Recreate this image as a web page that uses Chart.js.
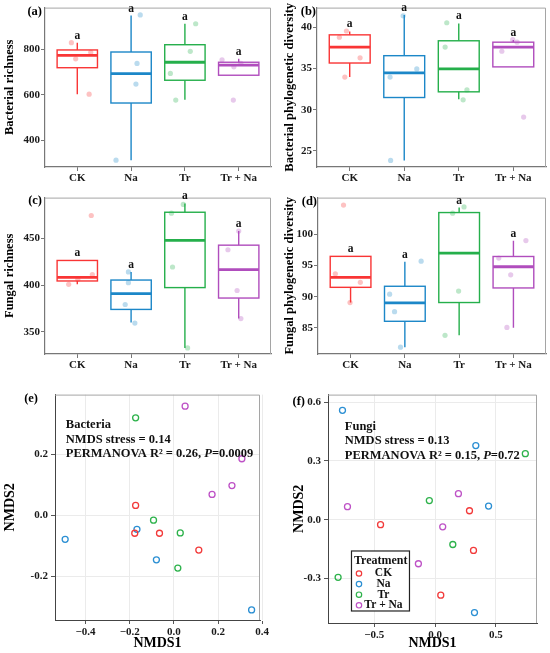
<!DOCTYPE html>
<html>
<head>
<meta charset="utf-8">
<script src="https://cdn.jsdelivr.net/npm/chart.js@4.4.0/dist/chart.umd.min.js"></script>
<style>
html, body { margin: 0; padding: 0; background: #fff; }
#fig { position: relative; width: 550px; height: 653px; }
#fig canvas { position: absolute; }
</style>
</head>
<body>
<div id="fig">
  <canvas id="pa" width="275" height="190" style="left:0;top:0"></canvas>
  <canvas id="pb" width="275" height="190" style="left:275px;top:0"></canvas>
  <canvas id="pc" width="275" height="195" style="left:0;top:190px"></canvas>
  <canvas id="pd" width="275" height="195" style="left:275px;top:190px"></canvas>
  <canvas id="pe" width="275" height="268" style="left:0;top:385px"></canvas>
  <canvas id="pf" width="275" height="268" style="left:275px;top:385px"></canvas>
</div>
<script>
const categories = ['CK', 'Na', 'Tr', 'Tr + Na'];
const sigLetters = ['a', 'a', 'a', 'a'];

// box stats per group: [lower whisker, Q1, median, Q3, upper whisker]
const bacRichBox = [[603, 719, 773, 797, 829], [313, 564, 693, 788, 948], [578, 664, 743, 820, 912], [686, 686, 730, 743, 758]];
const bacRichPts = [[829, 758, 787, 603], [951, 738, 647, 313], [912, 791, 694, 577], [754, 723, 738, 577]];
const bacRichJit = [[-0.11, -0.03, 0.25, 0.22], [0.17, 0.11, 0.09, -0.28], [0.20, 0.10, -0.27, -0.17], [-0.31, -0.09, 0.04, -0.10]];
const bacRichTicks = [400, 600, 800];

const bacPdBox = [[33.96, 35.67, 37.6, 39.09, 39.5], [23.84, 31.48, 34.47, 36.56, 41.5], [31.28, 32.17, 34.95, 38.37, 40.48], [35.2, 35.2, 37.6, 38.2, 38.45]];
const bacPdPts = [[38.8, 39.56, 36.3, 33.96], [41.4, 33.96, 34.95, 23.84], [40.56, 37.6, 32.4, 31.2], [38.5, 38.2, 37.1, 29.1]];
const bacPdJit = [[-0.19, -0.06, 0.19, -0.09], [-0.02, -0.26, 0.23, -0.25], [-0.22, -0.25, 0.15, 0.08], [-0.01, 0.07, -0.21, 0.19]];
const bacPdTicks = [25, 30, 35, 40];

const funRichBox = [[401, 404.6, 408.4, 426.6, 426.6], [360.1, 374.1, 391.0, 405.6, 414.3], [332.8, 397.5, 448.2, 478.3, 487.8], [364.3, 386.3, 416.7, 443, 458.1]];
const funRichPts = [[474.8, 411.5, 406.3, 401], [414.3, 402.8, 379.4, 359.5], [486.7, 477.3, 419.6, 332.8], [458.1, 438.1, 394.4, 364.3]];
const funRichJit = [[0.26, 0.28, 0.01, -0.16], [-0.05, -0.05, -0.11, 0.07], [-0.03, -0.25, -0.23, 0.05], [0, -0.2, -0.03, 0.04]];
const funRichTicks = [350, 400, 450];

const funPdBox = [[89.06, 91.5, 93.1, 96.47, 96.47], [81.9, 86.05, 89.0, 91.67, 95.6], [83.8, 89.06, 97.0, 103.5, 104.3], [85.0, 91.4, 94.8, 96.45, 98.96]];
const funPdPts = [[104.7, 93.66, 92.3, 89.06], [95.7, 90.4, 87.6, 81.9], [104.4, 103.4, 90.9, 83.8], [99.0, 96.2, 93.5, 85.06]];
const funPdJit = [[-0.13, -0.28, 0.18, -0.01], [0.30, -0.28, -0.19, -0.08], [0.09, -0.12, -0.01, -0.26], [0.23, -0.27, -0.05, -0.12]];
const funPdTicks = [85, 90, 95, 100];

// NMDS scores, one inner array per treatment (CK, Na, Tr, Tr + Na)
const bacNmds1 = [[-0.173, -0.177, -0.065, 0.113], [-0.492, -0.167, -0.079, 0.352], [-0.173, -0.092, 0.029, 0.018], [0.051, 0.308, 0.263, 0.173]];
const bacNmds2 = [[0.032, -0.059, -0.059, -0.114], [-0.079, -0.046, -0.146, -0.310], [0.319, -0.016, -0.058, -0.173], [0.357, 0.185, 0.097, 0.068]];
const bacTicksX = [-0.4, -0.2, 0, 0.2, 0.4];
const bacTicksY = [-0.2, 0, 0.2];

const funNmds1 = [[0.283, -0.448, 0.316, 0.047], [-0.761, 0.335, 0.44, 0.324], [0.742, -0.047, 0.146, -0.797], [-0.72, 0.192, 0.063, -0.137]];
const funNmds2 = [[0.046, -0.025, -0.156, -0.384], [0.558, 0.378, 0.070, -0.473], [0.337, 0.098, -0.126, -0.293], [0.067, 0.133, -0.036, -0.224]];
const funTicksX = [-0.5, 0, 0.5];
const funTicksY = [-0.3, 0, 0.3, 0.6];

const boxColors = ['#F93535', '#1C87C8', '#25AF4B', '#B04DBD'];
const pointColors = ['rgba(249,53,53,0.3)', 'rgba(28,135,200,0.3)', 'rgba(37,175,75,0.3)', 'rgba(176,77,189,0.3)'];
const nmdsColors = ['#F23A3A', '#2B8FD3', '#2DB24B', '#BE52C6'];

const SERIF = '"Liberation Serif", "Times New Roman", serif';
Chart.defaults.font.family = SERIF;
Chart.defaults.font.weight = 'bold';
Chart.defaults.font.size = 11;
Chart.defaults.color = '#1a1a1a';

function topRightFrame(ctx, a) {
    ctx.strokeStyle = '#a5a5a5';
    ctx.lineWidth = 1;
    ctx.beginPath();
    ctx.moveTo(a.left, a.top + 0.5);
    ctx.lineTo(a.right - 0.5, a.top + 0.5);
    ctx.lineTo(a.right - 0.5, a.bottom);
    ctx.stroke();
}

function drawTag(ctx, a, o) {
    ctx.fillStyle = '#000';
    ctx.font = 'bold 12.5px ' + SERIF;
    ctx.textAlign = 'right';
    ctx.textBaseline = 'middle';
    ctx.fillText(o.tag, a.left - o.tagDx, a.top + o.tagDy);
}

function boxChart(id, o) {
    const datasets = categories.map((c, i) => ({
        label: c,
        data: o.pts[i].map((v, j) => ({ x: i + 1 + o.jit[i][j], y: v })),
        pointRadius: 2.6,
        pointBorderWidth: 0,
        pointBackgroundColor: pointColors[i]
    }));

    const boxes = {
        id: 'boxes',
        beforeDatasetsDraw(chart) {
            const { ctx, chartArea: a, scales: { x, y } } = chart;
            ctx.save();
            topRightFrame(ctx, a);
            o.box.forEach((b, i) => {
                const cx = x.getPixelForValue(i + 1);
                const hw = x.getPixelForValue(i + 1.375) - cx;
                const [lo, q1, md, q3, hi] = b.map(v => y.getPixelForValue(v));
                ctx.strokeStyle = boxColors[i];
                ctx.lineWidth = 1.4;
                ctx.beginPath();
                ctx.moveTo(cx, q1); ctx.lineTo(cx, lo);
                ctx.moveTo(cx, q3); ctx.lineTo(cx, hi);
                ctx.stroke();
                ctx.fillStyle = '#fff';
                ctx.fillRect(cx - hw, q3, 2 * hw, q1 - q3);
                ctx.strokeRect(cx - hw, q3, 2 * hw, q1 - q3);
                ctx.lineWidth = 2.8;
                ctx.beginPath();
                ctx.moveTo(cx - hw, md); ctx.lineTo(cx + hw, md);
                ctx.stroke();
            });
            ctx.restore();
        },
        afterDatasetsDraw(chart) {
            const { ctx, chartArea: a, scales: { x, y } } = chart;
            ctx.save();
            ctx.fillStyle = '#111';
            ctx.font = 'bold 11.5px ' + SERIF;
            ctx.textAlign = 'center';
            ctx.textBaseline = 'alphabetic';
            o.box.forEach((b, i) => {
                ctx.fillText(sigLetters[i], x.getPixelForValue(i + 1), y.getPixelForValue(b[4]) - 4);
            });
            drawTag(ctx, a, o);
            ctx.restore();
        }
    };

    return new Chart(document.getElementById(id), {
        type: 'scatter',
        data: { datasets },
        options: {
            responsive: false,
            animation: false,
            layout: { padding: { top: o.padTop, right: o.padRight, left: 0, bottom: 0 } },
            plugins: { legend: { display: false }, tooltip: { enabled: false } },
            scales: {
                x: {
                    type: 'linear', min: 0.4, max: 4.6,
                    afterBuildTicks: s => { s.ticks = categories.map((c, i) => ({ value: i + 1 })); },
                    afterFit: s => { s.height = o.xh; },
                    ticks: { callback: v => categories[v - 1], padding: 1, maxRotation: 0, autoSkip: false },
                    grid: { drawOnChartArea: false, tickLength: 4, color: '#777' },
                    border: { color: '#777', width: 1.2 }
                },
                y: {
                    min: o.min, max: o.max,
                    afterBuildTicks: s => { s.ticks = o.ticks.map(v => ({ value: v })); },
                    afterFit: s => { s.width = o.yw; },
                    ticks: { padding: 1 },
                    grid: { drawOnChartArea: false, tickLength: 4, color: '#777' },
                    border: { color: '#777', width: 1.2 },
                    title: {
                        display: true, text: o.title, color: '#000',
                        font: { size: 12.5, weight: 'bold' },
                        padding: { top: o.titlePad, bottom: 0 }
                    }
                }
            }
        },
        plugins: [boxes]
    });
}

function nmdsChart(id, o) {
    const datasets = categories.map((c, i) => ({
        label: c,
        data: o.x[i].map((v, j) => ({ x: v, y: o.y[i][j] })),
        pointRadius: 3,
        pointBorderWidth: 1.3,
        pointBorderColor: nmdsColors[i],
        pointBackgroundColor: 'rgba(0,0,0,0)'
    }));

    const extras = {
        id: 'extras',
        beforeDatasetsDraw(chart) {
            const { ctx, chartArea: a } = chart;
            ctx.save();
            topRightFrame(ctx, a);
            ctx.restore();
        },
        afterDatasetsDraw(chart) {
            const { ctx, chartArea: a, scales: { x, y } } = chart;
            ctx.save();
            // stats text
            ctx.fillStyle = '#111';
            ctx.textAlign = 'left';
            ctx.textBaseline = 'middle';
            const tx = x.getPixelForValue(o.noteAt[0]);
            let ty = y.getPixelForValue(o.noteAt[1]);
            o.notes.forEach(line => {
                let cx = tx;
                line.forEach(part => {
                    ctx.font = (part.it ? 'italic ' : '') + 'bold 12.5px ' + SERIF;
                    ctx.fillText(part.t, cx, ty);
                    cx += ctx.measureText(part.t).width;
                });
                ty += 14.5;
            });
            // legend
            if (o.legendAt) {
                const lx = x.getPixelForValue(o.legendAt[0]);
                const ly = y.getPixelForValue(o.legendAt[1]);
                ctx.fillStyle = '#fff';
                ctx.fillRect(lx, ly, 58, 60);
                ctx.strokeStyle = '#222';
                ctx.lineWidth = 1.2;
                ctx.strokeRect(lx, ly, 58, 60);
                ctx.fillStyle = '#111';
                ctx.font = 'bold 12px ' + SERIF;
                ctx.textAlign = 'left';
                ctx.fillText('Treatment', lx + 2.5, ly + 9.5);
                ctx.textAlign = 'center';
                categories.forEach((c, i) => {
                    const ry = ly + 22.5 + i * 10.6;
                    ctx.beginPath();
                    ctx.arc(lx + 7.5, ry, 2.7, 0, Math.PI * 2);
                    ctx.strokeStyle = nmdsColors[i];
                    ctx.lineWidth = 1.2;
                    ctx.stroke();
                    ctx.fillStyle = '#111';
                    ctx.font = 'bold 11.5px ' + SERIF;
                    ctx.fillText(c, lx + 32, ry);
                });
            }
            drawTag(ctx, a, o);
            ctx.restore();
        }
    };

    const fmtX = v => (v < 0 ? '\u2212' : '') + Math.abs(v).toFixed(1);
    const fmtY = v => v.toFixed(1);

    return new Chart(document.getElementById(id), {
        type: 'scatter',
        data: { datasets },
        options: {
            responsive: false,
            animation: false,
            layout: { padding: { top: o.padTop, right: o.padRight, left: 0, bottom: 0 } },
            plugins: { legend: { display: false }, tooltip: { enabled: false } },
            scales: {
                x: {
                    min: o.xmin, max: o.xmax,
                    afterBuildTicks: s => { s.ticks = o.ticksX.map(v => ({ value: v })); },
                    afterFit: s => { s.height = o.xh; },
                    ticks: { callback: fmtX, padding: 2, maxRotation: 0, autoSkip: false },
                    grid: { color: '#ebebeb', tickColor: '#555', tickLength: 4 },
                    border: { color: '#444' },
                    title: { display: true, text: 'NMDS1', color: '#000', font: { size: 14, weight: 'bold' }, padding: { top: 1, bottom: 1 } }
                },
                y: {
                    min: o.ymin, max: o.ymax,
                    afterBuildTicks: s => { s.ticks = o.ticksY.map(v => ({ value: v })); },
                    afterFit: s => { s.width = o.yw; },
                    ticks: { callback: fmtY, padding: 3 },
                    grid: { color: '#ebebeb', tickColor: '#555', tickLength: 4 },
                    border: { color: '#444' },
                    title: { display: true, text: 'NMDS2', color: '#000', font: { size: 14, weight: 'bold' }, padding: { top: o.titlePad, bottom: 0 } }
                }
            }
        },
        plugins: [extras]
    });
}

boxChart('pa', {
    box: bacRichBox, pts: bacRichPts, jit: bacRichJit, ticks: bacRichTicks,
    min: 283, max: 983, title: 'Bacterial richness', titlePad: 2.5,
    yw: 45, xh: 23, padTop: 6, padRight: 3, tag: '(a)', tagDx: 3, tagDy: 4
});
boxChart('pb', {
    box: bacPdBox, pts: bacPdPts, jit: bacPdJit, ticks: bacPdTicks,
    min: 23.04, max: 42.4, title: 'Bacterial phylogenetic diversity', titlePad: 7.5,
    yw: 42, xh: 23, padTop: 6, padRight: 2, tag: '(b)', tagDx: 1, tagDy: 4
});
boxChart('pc', {
    box: funRichBox, pts: funRichPts, jit: funRichJit, ticks: funRichTicks,
    min: 326.3, max: 494, title: 'Fungal richness', titlePad: 2.5,
    yw: 45, xh: 31, padTop: 4, padRight: 3, tag: '(c)', tagDx: 3, tagDy: 3
});
boxChart('pd', {
    box: funPdBox, pts: funPdPts, jit: funPdJit, ticks: funPdTicks,
    min: 80.8, max: 105.9, title: 'Fungal phylogenetic diversity', titlePad: 7.5,
    yw: 43, xh: 31, padTop: 4, padRight: 2, tag: '(d)', tagDx: 1, tagDy: 4
});
nmdsChart('pe', {
    x: bacNmds1, y: bacNmds2, ticksX: bacTicksX, ticksY: bacTicksY,
    xmin: -0.538, xmax: 0.39, ymin: -0.343, ymax: 0.395,
    yw: 55, xh: 33, padTop: 3, padRight: 15, titlePad: 1.5,
    noteAt: [-0.489, 0.296],
    notes: [[{ t: 'Bacteria' }], [{ t: 'NMDS stress = 0.14' }], [{ t: 'PERMANOVA R\u00b2 = 0.26, ' }, { t: 'P', it: true }, { t: '=0.0009' }]],
    tag: '(e)', tagDx: 17, tagDy: 4
});
nmdsChart('pf', {
    x: funNmds1, y: funNmds2, ticksX: funTicksX, ticksY: funTicksY,
    xmin: -0.88, xmax: 0.838, ymin: -0.526, ymax: 0.638,
    yw: 53, xh: 30, padTop: 1, padRight: 13, titlePad: 16,
    noteAt: [-0.742, 0.476],
    notes: [[{ t: 'Fungi' }], [{ t: 'NMDS stress = 0.13' }], [{ t: 'PERMANOVA R\u00b2 = 0.15, ' }, { t: 'P', it: true }, { t: '=0.72' }]],
    legendAt: [-0.687, -0.159],
    tag: '(f)', tagDx: 23, tagDy: 7
});
</script>
</body>
</html>
